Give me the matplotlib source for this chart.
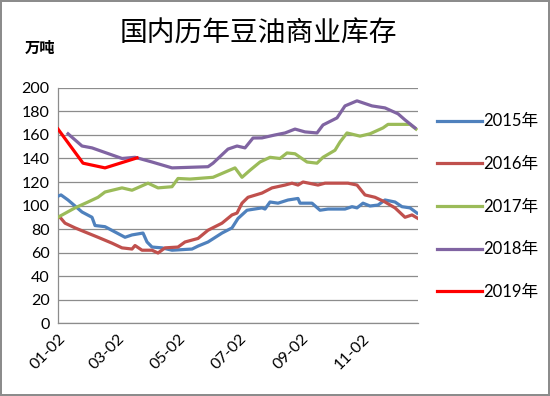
import matplotlib
matplotlib.use("Agg")
import matplotlib.pyplot as plt

# days counted from 01-02
days_2015 = [0, 3, 10, 24, 34, 37, 47, 67, 74, 85, 89, 94, 104, 114, 134, 140, 150, 164, 174, 180,
             189, 204, 207, 212, 220, 230, 240, 242, 254, 262, 270, 287, 294, 299, 305, 312, 320,
             327, 337, 344, 352, 359]
vals_2015 = [108, 109, 104.7, 94.5, 90, 83, 82, 73, 75, 76.6, 69, 64.7, 64, 62, 63, 65.5, 69, 76.6,
             81, 89, 96, 98, 97, 103, 102, 104.7, 106, 102, 102, 96, 97, 97, 99, 98, 102, 99.6,
             100.4, 104.7, 103, 99, 98, 93.6]

days_2016 = [0, 2, 7, 17, 27, 40, 54, 64, 74, 77, 84, 94, 100, 107, 120, 127, 140, 150, 164, 174,
             179, 184, 190, 204, 214, 227, 234, 240, 245, 260, 267, 290, 299, 307, 317, 327, 337,
             347, 354, 360]
vals_2016 = [90, 90, 85, 81, 77.5, 73, 68, 64, 63, 66, 62, 62, 59.6, 64, 64.7, 69, 72, 79, 85, 92,
             93.6, 102, 107, 110.6, 115, 117.4, 119, 117.4, 120, 117.4, 119, 119, 117.4, 109, 107,
             103, 98, 90, 92, 89]

days_2017 = [0, 2, 17, 30, 40, 47, 64, 74, 90, 100, 114, 120, 132, 155, 177, 184, 192, 202, 212,
             222, 229, 237, 249, 259, 265, 277, 282, 289, 302, 312, 325, 330, 352, 358]
vals_2017 = [90, 91, 98, 103, 107, 111.5, 115, 113, 119, 115, 116, 123, 122.5, 124, 132, 124, 130,
             137, 141, 140, 144.7, 144, 137, 136, 141, 147, 154, 161.7, 159, 161, 166, 169, 169, 165]

days_2018 = [10, 24, 34, 64, 77, 94, 114, 150, 155, 170, 179, 187, 195, 204, 217, 227, 237, 247,
             259, 265, 279, 287, 299, 314, 327, 340, 347, 357]
vals_2018 = [161, 150.6, 149, 140, 141, 137, 132, 133, 136, 148, 150.6, 149, 157.4, 157.5, 160,
             161.7, 165, 162.6, 161.7, 168.5, 174.5, 184.7, 189, 184.7, 183, 178, 172.8, 166]

days_2019 = [0, 25, 47, 79]
vals_2019 = [165, 136, 132, 140.5]

tick_days = [0, 59, 120, 181, 243, 304]
tick_labels = ["01-02", "03-02", "05-02", "07-02", "09-02", "11-02"]
y_ticks = list(range(0, 201, 20))

plt.rcParams["font.family"] = ["Lato", "Noto Sans CJK SC", "DejaVu Sans"]

fig = plt.figure(figsize=(5.5, 3.96), dpi=100, linewidth=1.5, edgecolor="#8c8c8c")
ax = fig.add_axes([0.1055, 0.184, 0.6545, 0.594])

series = [
    (days_2015, vals_2015, "#4F81BD", "2015年"),
    (days_2016, vals_2016, "#C0504D", "2016年"),
    (days_2017, vals_2017, "#9BBB59", "2017年"),
    (days_2018, vals_2018, "#8064A2", "2018年"),
    (days_2019, vals_2019, "#FF0000", "2019年"),
]
for d, v, c, lab in series:
    ax.plot(d, v, color=c, linewidth=2.3, label=lab, solid_joinstyle="round", zorder=3)

ax.set_xlim(0, 360)
ax.set_ylim(0, 200)
ax.set_yticks(y_ticks)
ax.set_xticks(tick_days)
ax.set_xticklabels(tick_labels, rotation=45, ha="right", rotation_mode="anchor")
ax.tick_params(axis="both", length=0, labelsize=11.5, colors="black")
ax.tick_params(axis="y", pad=6)
ax.tick_params(axis="x", pad=6)
ax.grid(axis="y", color="#8c8c8c", linewidth=0.9)
ax.set_axisbelow(True)
for s in ["top", "right"]:
    ax.spines[s].set_visible(False)
for s in ["left", "bottom"]:
    ax.spines[s].set_color("#8c8c8c")
    ax.spines[s].set_linewidth(0.9)

ax.legend(loc="center left", bbox_to_anchor=(1.01, 0.495), frameon=False, fontsize=12,
          handlelength=2.7, labelspacing=1.6, handletextpad=0.1)

fig.text(0.47, 0.915, "国内历年豆油商业库存", fontsize=20, ha="center", va="center",
         family=["Noto Sans CJK SC"])
fig.text(0.073, 0.878, "万吨", fontsize=11, ha="center", va="center", fontweight="bold",
         family=["Noto Sans CJK SC"])

fig.savefig("out.png", dpi=100)
